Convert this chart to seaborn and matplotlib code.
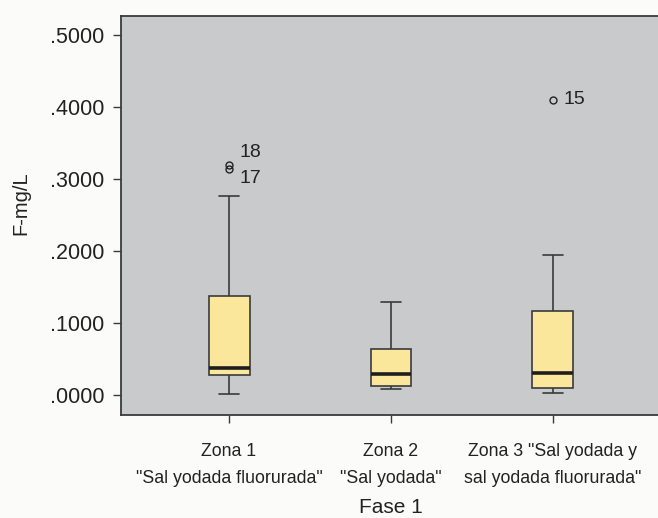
import matplotlib
matplotlib.use("Agg")
import matplotlib.pyplot as plt
import pandas as pd
import seaborn as sns

# Fluoride concentration (mg/L) per zone, phase 1
zone_labels = [
    'Zona 1\n"Sal yodada fluorurada"',
    'Zona 2\n"Sal yodada"',
    'Zona 3 "Sal yodada y\nsal yodada fluorurada"',
]
zona1 = [0.002, 0.015, 0.022, 0.028, 0.032, 0.035, 0.038,
         0.060, 0.100, 0.1375, 0.276, 0.314, 0.319]
zona2 = [0.008, 0.0125, 0.0287, 0.0634, 0.129]
zona3 = [0.0023, 0.006, 0.0093, 0.020, 0.030, 0.070, 0.1167, 0.194, 0.410]

# case ids of the outlying samples
outlier_ids = [(0, 0.319, "18"), (0, 0.314, "17"), (2, 0.410, "15")]
ytick_values = [0.0, 0.1, 0.2, 0.3, 0.4, 0.5]

df = pd.DataFrame({
    "zona": [zone_labels[0]] * len(zona1) + [zone_labels[1]] * len(zona2)
            + [zone_labels[2]] * len(zona3),
    "F": zona1 + zona2 + zona3,
})

sns.set_style("ticks")
plt.rcParams["font.family"] = ["Liberation Sans", "DejaVu Sans"]

fig = plt.figure(figsize=(6.58, 5.18), dpi=100)
fig.patch.set_facecolor("#fbfbf9")
ax = fig.add_axes([121 / 658, 103 / 518, 540 / 658, 399 / 518])
ax.set_facecolor("#c9cacc")

edge = "#3a3a3c"
text_color = "#222222"
sns.boxplot(
    data=df, x="zona", y="F", order=zone_labels, ax=ax,
    width=0.253, color="#fbe79c", linecolor=edge, linewidth=1.2,
    saturation=1, whis=1.5,
    medianprops=dict(color="#1e1e1e", linewidth=2.6),
    flierprops=dict(marker="o", markerfacecolor="none",
                    markeredgecolor=text_color, markersize=5, markeredgewidth=1.0),
)

for xi, yv, lab in outlier_ids:
    dy = 0.018 if lab == "18" else (-0.014 if lab == "17" else 0.0)
    ax.text(xi + 0.065, yv + dy, lab, fontsize=14, color=text_color,
            ha="left", va="center")

ax.set_xlim(-0.667, 2.667)
ax.set_ylim(-0.0278, 0.5264)
ax.set_yticks(ytick_values)
ax.set_yticklabels([f"{v:.4f}"[1:] for v in ytick_values])

ax.tick_params(axis="y", length=6, width=1, color=edge, pad=6,
               labelsize=15.5, labelcolor=text_color)
ax.tick_params(axis="x", length=6, width=1, color=edge, pad=14,
               labelsize=12.8, labelcolor=text_color)
for lab in ax.get_xticklabels():
    lab.set_linespacing(1.75)

for side in ["left", "bottom", "top"]:
    ax.spines[side].set_visible(True)
    ax.spines[side].set_color(edge)
    ax.spines[side].set_linewidth(1.3)
ax.spines["right"].set_visible(False)

ax.set_ylabel("F-mg/L", fontsize=14.5, color=text_color)
ax.yaxis.set_label_coords(-0.168, 0.53)
ax.set_xlabel("Fase 1", fontsize=15, color=text_color, labelpad=8)

fig.savefig("out.png", dpi=100, facecolor=fig.get_facecolor())
